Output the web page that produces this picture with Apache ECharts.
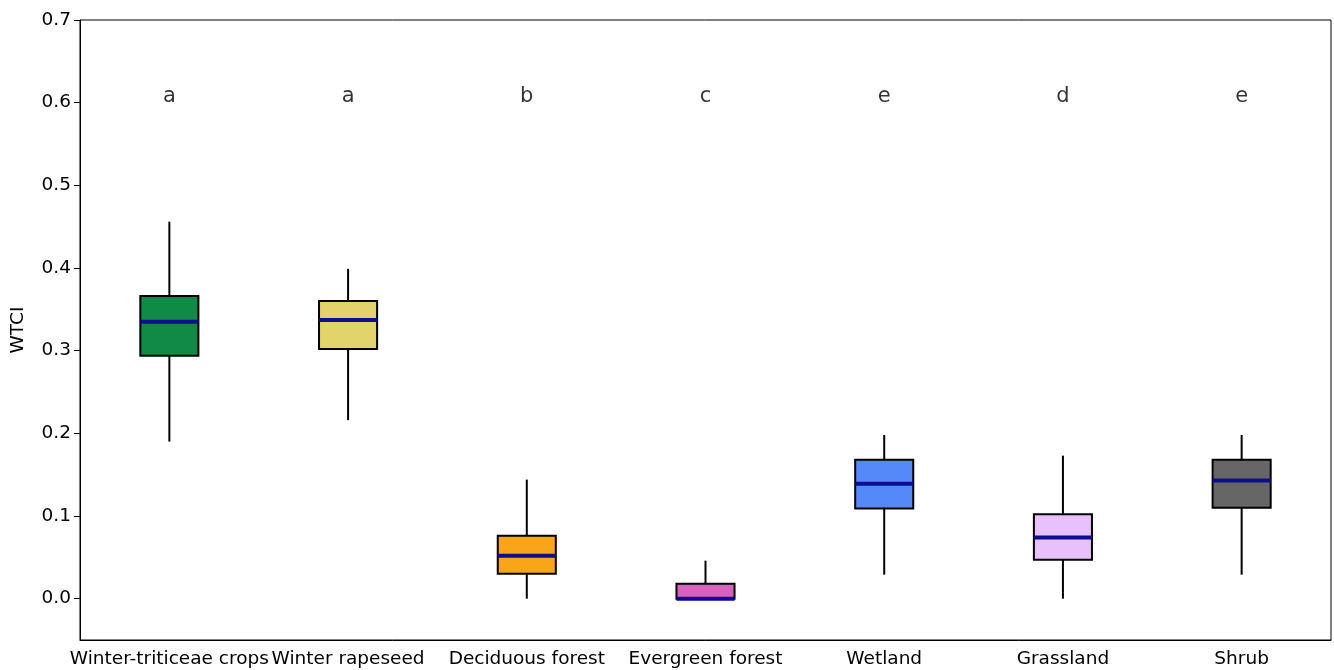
<!DOCTYPE html>
<html><head><meta charset="utf-8">
<script src="https://cdn.jsdelivr.net/npm/echarts@6/dist/echarts.min.js"></script>
<style>html,body{margin:0;padding:0;background:#fff}#c{width:1334px;height:670px}</style>
</head><body><div id="c"></div>
<script>
const categories = ['Winter-triticeae crops','Winter rapeseed','Deciduous forest','Evergreen forest','Wetland','Grassland','Shrub'];
const whiskerLow = [0.190, 0.216, 0.000, 0.000, 0.029, 0.000, 0.029];
const q1 =         [0.294, 0.302, 0.030, 0.000, 0.109, 0.047, 0.110];
const median =     [0.335, 0.337, 0.052, 0.000, 0.139, 0.074, 0.143];
const q3 =         [0.366, 0.360, 0.076, 0.018, 0.168, 0.102, 0.168];
const whiskerHigh =[0.456, 0.399, 0.144, 0.046, 0.198, 0.173, 0.198];
const letters = ['a','a','b','c','e','d','e'];
const letterY = 0.607;
const colors = ['#108a45','#e2d46a','#f9a51a','#d762c0','#5588f9','#e8c0fc','#666666'];
const yTicks = [0.0,0.1,0.2,0.3,0.4,0.5,0.6,0.7];
const font = 'DejaVu Sans';

const boxData = categories.map((c,i)=>[i, whiskerLow[i], q1[i], median[i], q3[i], whiskerHigh[i]]);
const letterData = categories.map((c,i)=>[i, letterY, letters[i]]);

const chart = echarts.init(document.getElementById('c'));
chart.setOption({
  animation:false,
  grid:{left:80,right:3,top:20,bottom:30,show:true,borderColor:'#000',borderWidth:1,backgroundColor:'transparent'},
  xAxis:{type:'category',data:categories,boundaryGap:true,
    axisLine:{onZero:false,lineStyle:{color:'#000',width:1}},
    axisTick:{alignWithLabel:true,length:6,lineStyle:{color:'#000'}},
    axisLabel:{color:'#000',fontSize:18.5,fontFamily:font,margin:10,interval:0},
    splitLine:{show:false}},
  yAxis:{type:'value',min:-0.05,max:0.7,name:'WTCI',nameLocation:'middle',nameGap:52,
    nameTextStyle:{color:'#000',fontSize:18.5,fontFamily:font},
    axisLine:{show:true,lineStyle:{color:'#000',width:1}},
    axisTick:{show:true,length:6,lineStyle:{color:'#000'},customValues:yTicks},
    axisLabel:{color:'#000',fontSize:18.5,fontFamily:font,margin:9,customValues:yTicks,formatter:v=>v.toFixed(1)},
    splitLine:{show:false}},
  series:[{
    type:'custom',
    data:boxData,
    encode:{x:0,y:[1,2,3,4,5]},
    renderItem:function(params,api){
      const i = api.value(0);
      const w = api.size([1,0])[0]*0.325;
      const pLow = api.coord([i, api.value(1)]);
      const pQ1 = api.coord([i, api.value(2)]);
      const pMed = api.coord([i, api.value(3)]);
      const pQ3 = api.coord([i, api.value(4)]);
      const pHigh = api.coord([i, api.value(5)]);
      const x = pQ1[0];
      return {type:'group',children:[
        {type:'line',shape:{x1:x,y1:pQ1[1],x2:x,y2:pLow[1]},style:{stroke:'#000',lineWidth:2}},
        {type:'line',shape:{x1:x,y1:pQ3[1],x2:x,y2:pHigh[1]},style:{stroke:'#000',lineWidth:2}},
        {type:'rect',shape:{x:x-w/2,y:pQ3[1],width:w,height:pQ1[1]-pQ3[1]},style:{fill:colors[i],stroke:'#000',lineWidth:2}},
        {type:'line',shape:{x1:x-w/2,y1:pMed[1],x2:x+w/2,y2:pMed[1]},style:{stroke:'#0d0d8f',lineWidth:4}}
      ]};
    },
    z:2
  },{
    type:'scatter',
    data:letterData,
    symbolSize:0,
    itemStyle:{color:'rgba(0,0,0,0)'},
    label:{show:true,position:'inside',formatter:p=>p.data[2],color:'#000',fontSize:21,fontFamily:font,textBorderWidth:0},
    z:3
  }]
});
</script></body></html>
